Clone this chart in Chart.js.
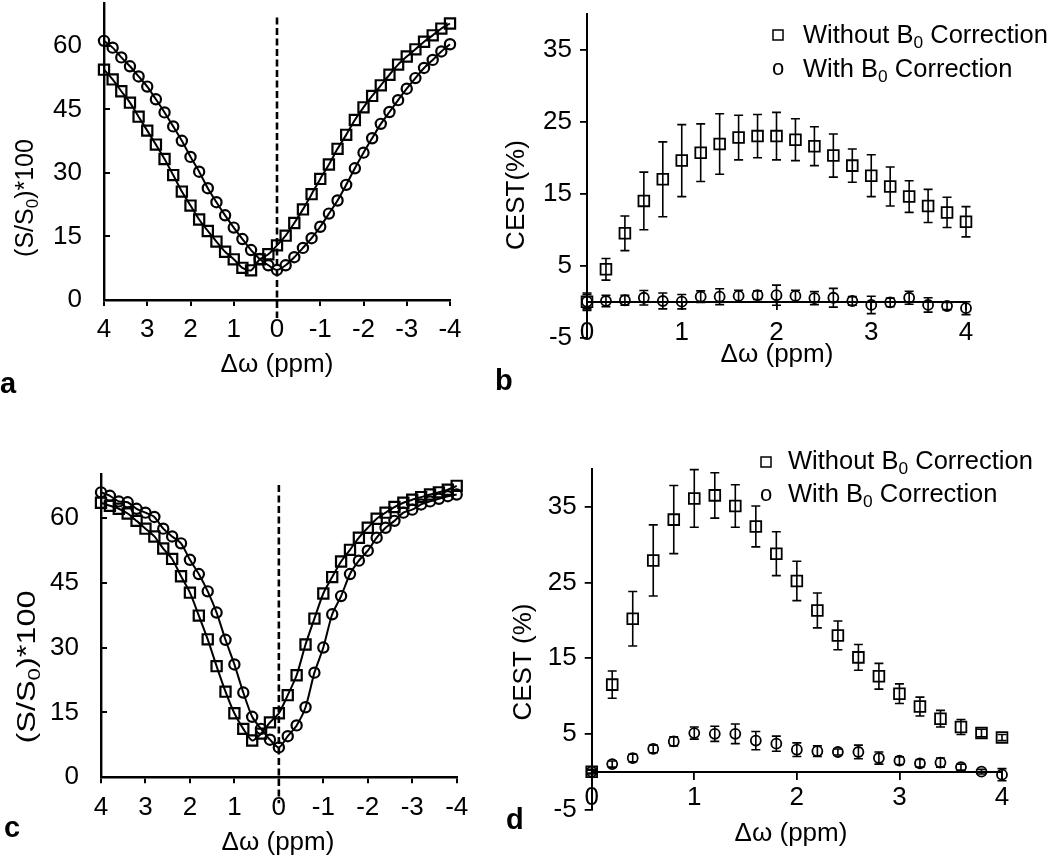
<!DOCTYPE html>
<html>
<head>
<meta charset="utf-8">
<script src="https://cdn.jsdelivr.net/npm/chart.js@4.4.1/dist/chart.umd.min.js"></script>
<style>
  html, body { margin: 0; padding: 0; background: #fff; }
  body { position: relative; width: 1050px; height: 858px; overflow: hidden; }
  canvas { position: absolute; }
</style>
</head>
<body>
<script>
// --- Data ---
const offsetsFull = [4, 3.8, 3.6, 3.4, 3.2, 3, 2.8, 2.6, 2.4, 2.2, 2, 1.8, 1.6, 1.4, 1.2, 1, 0.8, 0.6, 0.4, 0.2, 0,
  -0.2, -0.4, -0.6, -0.8, -1, -1.2, -1.4, -1.6, -1.8, -2, -2.2, -2.4, -2.6, -2.8, -3, -3.2, -3.4, -3.6, -3.8, -4];
const offsetsPos = [0, 0.2, 0.4, 0.6, 0.8, 1, 1.2, 1.4, 1.6, 1.8, 2, 2.2, 2.4, 2.6, 2.8, 3, 3.2, 3.4, 3.6, 3.8, 4];

const zTicksX = [4, 3, 2, 1, 0, -1, -2, -3, -4];
const zTicksY = [0, 15, 30, 45, 60];
const cestTicksX = [0, 1, 2, 3, 4];
const cestTicksY = [-5, 5, 15, 25, 35];

// panel a: Z-spectra
const aWithout = [54.4, 52.1, 49.3, 46.6, 43.3, 40.0, 36.7, 33.3, 29.5, 25.6, 22.3, 19.0, 16.3, 13.8, 11.4, 9.6, 7.6, 7.0, 9.6, 10.8, 12.9,
  15.2, 18.2, 21.4, 25.0, 28.6, 32.0, 35.7, 39.0, 42.5, 45.5, 48.2, 50.7, 53.2, 55.6, 57.5, 59.2, 61.0, 62.5, 64.1, 65.3];
const aWith = [61.2, 59.6, 57.3, 55.2, 52.8, 50.4, 47.4, 44.3, 41.0, 37.6, 33.8, 30.3, 26.4, 23.1, 20.0, 17.1, 14.4, 11.8, 9.7, 8.2, 7.1,
  8.2, 10.1, 12.3, 14.6, 17.3, 20.4, 23.5, 27.2, 31.1, 34.8, 38.2, 41.6, 44.4, 47.2, 49.9, 52.4, 54.8, 56.7, 58.7, 60.4];

// panel c: Z-spectra
const cWithout = [63.5, 62.8, 62.1, 61.0, 59.3, 57.5, 55.7, 52.9, 50.5, 46.5, 42.7, 37.4, 31.9, 25.7, 19.8, 14.8, 11.2, 8.5, 10.1, 12.7, 14.8,
  19.0, 23.6, 30.7, 36.7, 42.5, 46.3, 49.9, 52.6, 55.4, 57.7, 59.8, 61.2, 62.5, 63.5, 64.2, 64.8, 65.4, 65.9, 66.5, 67.4];
const cWith = [65.9, 65.1, 63.8, 63.6, 62.1, 61.2, 60.2, 57.5, 55.7, 54.1, 50.3, 47.0, 43.0, 38.1, 31.8, 26.1, 19.6, 14.0, 11.2, 8.7, 6.9,
  9.5, 12.0, 16.2, 24.2, 30.0, 37.7, 41.9, 47.0, 50.1, 52.4, 55.4, 57.7, 59.3, 61.2, 61.9, 63.1, 63.8, 64.4, 65.0, 65.4];

// panel b: CEST asymmetry
const bWithout = [0, 4.5, 9.5, 14, 17, 19.6, 20.7, 21.9, 22.8, 23, 23, 22.5, 21.6, 20.3, 18.9, 17.5, 16, 14.6, 13.3, 12.4, 11.1];
const bWithoutErr = [1.2, 1.5, 2.4, 4, 5.2, 5, 4, 4.2, 3.1, 3, 3.3, 2.9, 2.7, 3, 2.3, 2.9, 2.7, 2.2, 2.3, 2.1, 2.1];
const bWith = [0, 0.1, 0.2, 0.55, 0.1, 0, 0.7, 0.7, 0.8, 0.9, 0.9, 0.8, 0.5, 0.55, 0.1, -0.45, -0.1, 0.55, -0.45, -0.6, -0.9];
const bWithErr = [1.0, 0.8, 0.7, 1.0, 1.1, 1.0, 0.8, 1.1, 0.8, 0.6, 1.4, 0.8, 0.9, 1.3, 0.6, 1.2, 0.6, 0.9, 1.0, 0.5, 0.9];

// panel d: CEST asymmetry
const dWithout = [0, 11.5, 20.2, 27.9, 33.3, 36.1, 36.5, 35.1, 32.4, 28.8, 25.2, 21.3, 18, 15.1, 12.6, 10.3, 8.6, 7, 5.9, 5.1, 4.5];
const dWithoutErr = [0.3, 1.8, 3.6, 4.7, 4.5, 3.8, 3, 2.8, 2.7, 2.9, 2.6, 2.3, 1.9, 1.7, 1.7, 1.3, 1.25, 1.1, 1, 0.5, 0.4];
const dWith = [0, 1.0, 1.8, 3.0, 4.0, 5.1, 5.0, 5.0, 4.1, 3.7, 2.9, 2.7, 2.6, 2.6, 1.8, 1.45, 1.1, 1.2, 0.6, 0, -0.4];
const dWithErr = [0.2, 0.4, 0.5, 0.5, 0.6, 0.8, 1.0, 1.3, 1.2, 1.0, 0.9, 0.7, 0.4, 0.9, 0.8, 0.5, 0.5, 0.6, 0.4, 0.3, 0.8];

const FONT = "'Liberation Sans', Arial, Helvetica, sans-serif";
Chart.defaults.font.family = FONT;
Chart.defaults.color = '#000';

// canvas margins around each plot area
const M = { l: 130, t: 40, r: 90, b: 110 };
const Y_W = 60, X_H = 50;
const TICK_FONT = 26;

const pts = (xs, ys) => xs.map((x, i) => ({ x: x, y: ys[i] }));
const fontStr = (size, bold) => (bold ? 'bold ' : '') + size + 'px ' + FONT;

// --- text helpers (subscripts) ---
function richWidth(ctx, parts, size) {
    let w = 0;
    parts.forEach(p => {
        ctx.font = fontStr(p.sub ? size * 0.68 : size);
        w += ctx.measureText(p.t).width;
    });
    return w;
}

function drawRich(ctx, parts, x, y, size, align) {
    let cx = align === 'center' ? x - richWidth(ctx, parts, size) / 2 : x;
    ctx.textAlign = 'left';
    ctx.textBaseline = 'alphabetic';
    parts.forEach(p => {
        const s = p.sub ? size * 0.68 : size;
        ctx.font = fontStr(s);
        ctx.fillText(p.t, cx, y + (p.sub ? size * 0.2 : 0));
        cx += ctx.measureText(p.t).width;
    });
}

// --- plugin: dashed zero line, error bars, titles, legend ---
const decor = {
    id: 'decor',
    afterDatasetsDraw(chart, args, o) {
        const ctx = chart.ctx;
        const xs = chart.scales.x, ys = chart.scales.y;
        const ox = o.off.x, oy = o.off.y;
        ctx.save();
        ctx.strokeStyle = '#000';
        ctx.fillStyle = '#000';

        if (o.dash) {
            const px = xs.getPixelForValue(0);
            ctx.beginPath();
            ctx.setLineDash([7, 3.5]);
            ctx.lineWidth = 2.6;
            ctx.moveTo(px, ys.getPixelForValue(o.dash.top));
            ctx.lineTo(px, chart.chartArea.bottom + o.dash.below);
            ctx.stroke();
            ctx.setLineDash([]);
        }

        (o.errors || []).forEach(e => {
            ctx.lineWidth = 1.6;
            e.vals.forEach((v, i) => {
                const x = xs.getPixelForValue(e.xs[i]);
                const y1 = ys.getPixelForValue(v - e.err[i]);
                const y2 = ys.getPixelForValue(v + e.err[i]);
                ctx.beginPath();
                ctx.moveTo(x, y1); ctx.lineTo(x, y2);
                ctx.moveTo(x - 4.5, y1); ctx.lineTo(x + 4.5, y1);
                ctx.moveTo(x - 4.5, y2); ctx.lineTo(x + 4.5, y2);
                ctx.stroke();
            });
        });

        if (o.yTitle) {
            const t = o.yTitle;
            ctx.save();
            ctx.translate(t.x - ox, t.y - oy);
            ctx.rotate(-Math.PI / 2);
            ctx.scale(t.stretch || 1, 1);
            drawRich(ctx, t.parts, 0, t.size * 0.36, t.size, 'center');
            ctx.restore();
        }
        if (o.xTitle) {
            drawRich(ctx, o.xTitle.parts, o.xTitle.x - ox, o.xTitle.y - oy, o.xTitle.size, 'center');
        }
        if (o.letter) {
            ctx.font = fontStr(29, true);
            ctx.textAlign = 'left';
            ctx.textBaseline = 'alphabetic';
            ctx.fillText(o.letter.t, o.letter.x - ox, o.letter.y - oy);
        }
        (o.legend || []).forEach(l => {
            if (l.marker === 'rect') {
                ctx.lineWidth = 1.5;
                ctx.strokeRect(l.mx - ox, l.my - oy, 10, 10);
            } else {
                ctx.font = fontStr(22);
                ctx.textAlign = 'center';
                ctx.textBaseline = 'alphabetic';
                ctx.fillText('o', l.mx - ox, l.my - oy);
            }
            drawRich(ctx, l.parts, l.tx - ox, l.ty - oy, 25.5, 'left');
        });
        ctx.restore();
    }
};
Chart.register(decor);

// --- builders ---
function makeCanvas(area) {
    const left = Math.floor(area.l) - M.l;
    const top = Math.floor(area.t) - M.t;
    const w = Math.ceil(area.r) - left + M.r;
    const h = Math.ceil(area.b) - top + M.b;
    const canvas = document.createElement('canvas');
    canvas.width = w;
    canvas.height = h;
    canvas.style.left = left + 'px';
    canvas.style.top = top + 'px';
    canvas.style.width = w + 'px';
    canvas.style.height = h + 'px';
    document.body.appendChild(canvas);
    return { canvas, left, top, w, h };
}

function axisBase(tickList, fit) {
    return {
        type: 'linear',
        afterBuildTicks: s => { s.ticks = tickList.map(v => ({ value: v })); },
        afterFit: fit,
        border: { color: '#000', width: 2.4 },
        ticks: { color: '#000', autoSkip: false, maxRotation: 0, callback: v => String(v) }
    };
}

function zChart(area, sq, circ, labelPad, deco) {
    const c = makeCanvas(area);
    const padding = {
        left: area.l - c.left - Y_W,
        top: area.t - c.top,
        right: c.left + c.w - area.r,
        bottom: c.top + c.h - area.b - X_H
    };
    const x = axisBase(zTicksX, s => { s.height = X_H; });
    Object.assign(x, { min: -4, max: 4, reverse: true });
    x.grid = { drawOnChartArea: false, color: '#000', lineWidth: 2, tickLength: 6 };
    Object.assign(x.ticks, { font: { size: TICK_FONT }, padding: labelPad });
    const y = axisBase(zTicksY, s => { s.width = Y_W; });
    Object.assign(y, { min: 0, max: 70 });
    y.grid = { drawOnChartArea: false, color: '#000', lineWidth: 2, tickLength: -6 };
    Object.assign(y.ticks, { font: { size: TICK_FONT }, padding: 28 });

    const line = (data, style, r) => ({
        data: data, showLine: true, tension: 0.25, borderColor: '#000', borderWidth: 2,
        pointStyle: style, pointRadius: r, pointHoverRadius: r, pointBorderColor: '#000',
        pointBackgroundColor: 'rgba(0,0,0,0)', pointBorderWidth: 2.2, clip: false
    });
    deco.off = { x: c.left, y: c.top };
    return new Chart(c.canvas, {
        type: 'scatter',
        data: { datasets: [line(pts(offsetsFull, sq), 'rect', 7.2), line(pts(offsetsFull, circ), 'circle', 5.1)] },
        options: {
            responsive: false, animation: false, events: [],
            layout: { padding },
            scales: { x, y },
            plugins: { legend: { display: false }, tooltip: { enabled: false }, decor: deco }
        }
    });
}

function cestChart(area, sq, sqErr, circ, circErr, labelPad, deco) {
    const c = makeCanvas(area);
    const padding = {
        left: area.l - c.left - Y_W,
        top: area.t - c.top,
        right: c.left + c.w - area.r,
        bottom: c.top + c.h - area.b
    };
    const x = axisBase(cestTicksX, s => { s.height = 0; });
    Object.assign(x, { min: 0, max: 4, position: { y: 0 } });
    x.border.width = 2;
    x.grid = { drawOnChartArea: false, color: '#000', lineWidth: 1.8, tickLength: 7 };
    Object.assign(x.ticks, { font: { size: TICK_FONT }, padding: labelPad });
    const y = axisBase(cestTicksY, s => { s.width = Y_W; });
    Object.assign(y, { min: -5, max: 40 });
    y.border.width = 2;
    y.grid = { drawOnChartArea: false, color: '#000', lineWidth: 1.8, tickLength: 7 };
    Object.assign(y.ticks, { font: { size: TICK_FONT }, padding: 8 });

    const marks = (data, style, r) => ({
        data: data, showLine: false, pointStyle: style, pointRadius: r, pointHoverRadius: r,
        pointBorderColor: '#000', pointBackgroundColor: 'rgba(0,0,0,0)', pointBorderWidth: 1.8, clip: false
    });
    deco.off = { x: c.left, y: c.top };
    deco.errors = [
        { xs: offsetsPos, vals: sq, err: sqErr },
        { xs: offsetsPos, vals: circ, err: circErr }
    ];
    return new Chart(c.canvas, {
        type: 'scatter',
        data: { datasets: [marks(pts(offsetsPos, sq), 'rect', 7.6), marks(pts(offsetsPos, circ), 'circle', 5)] },
        options: {
            responsive: false, animation: false, events: [],
            layout: { padding },
            scales: { x, y },
            plugins: { legend: { display: false }, tooltip: { enabled: false }, decor: deco }
        }
    });
}

const X_TITLE = [{ t: 'Δω (ppm)' }];
const Z_TITLE = [{ t: '(S/S' }, { t: '0', sub: true }, { t: ')*100' }];
const legendWithout = [{ t: 'Without B' }, { t: '0', sub: true }, { t: ' Correction' }];
const legendWith = [{ t: 'With B' }, { t: '0', sub: true }, { t: ' Correction' }];

zChart({ l: 104, t: 0, r: 450, b: 300 }, aWithout, aWith, 8, {
    dash: { top: 66.7, below: 18 },
    yTitle: { parts: Z_TITLE, x: 24, y: 198, size: 25 },
    xTitle: { parts: X_TITLE, x: 277, y: 372, size: 26 },
    letter: { t: 'a', x: 0, y: 393 }
});

zChart({ l: 101, t: 471.7, r: 456.7, b: 777.3 }, cWithout, cWith, 9, {
    dash: { top: 67.6, below: 26 },
    yTitle: { parts: Z_TITLE, x: 26, y: 667, size: 25, stretch: 1.3 },
    xTitle: { parts: X_TITLE, x: 278, y: 850, size: 26 },
    letter: { t: 'c', x: 4, y: 837 }
});

cestChart({ l: 587, t: 13.7, r: 966, b: 337.7 }, bWithout, bWithoutErr, bWith, bWithErr, 8.5, {
    yTitle: { parts: [{ t: 'CEST(%)' }], x: 515, y: 195, size: 26 },
    xTitle: { parts: X_TITLE, x: 777, y: 362, size: 26 },
    letter: { t: 'b', x: 495, y: 390 },
    legend: [
        { marker: 'rect', mx: 773, my: 30, tx: 803, ty: 43, parts: legendWithout },
        { marker: 'o', mx: 778, my: 75, tx: 803, ty: 77, parts: legendWith }
    ]
});

cestChart({ l: 591.7, t: 468.9, r: 1002, b: 809.5 }, dWithout, dWithoutErr, dWith, dWithErr, 4, {
    yTitle: { parts: [{ t: 'CEST (%)' }], x: 522, y: 662, size: 26 },
    xTitle: { parts: X_TITLE, x: 791, y: 841, size: 26 },
    letter: { t: 'd', x: 506, y: 829 },
    legend: [
        { marker: 'rect', mx: 761, my: 457, tx: 788, ty: 469, parts: legendWithout },
        { marker: 'o', mx: 766, my: 501, tx: 788, ty: 502, parts: legendWith }
    ]
});
</script>
</body>
</html>
